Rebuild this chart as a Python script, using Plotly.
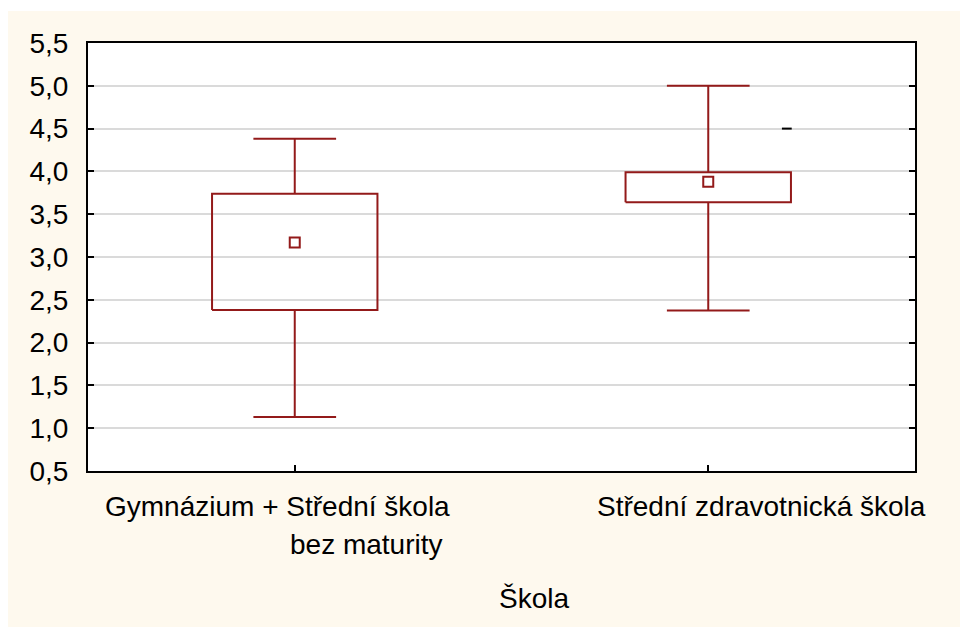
import plotly.graph_objects as go

# ---- data ----
categories = ["Gymnázium + Střední škola bez maturity", "Střední zdravotnická škola"]
whisker_low = [1.13, 2.375]
box_q1 = [2.38, 3.64]
box_center = [3.17, 3.88]
box_q3 = [3.74, 3.99]
whisker_high = [4.38, 5.0]
outlier_group = [1]
outlier_value = [4.5]

y_ticks = [0.5, 1.0, 1.5, 2.0, 2.5, 3.0, 3.5, 4.0, 4.5, 5.0, 5.5]

# ---- style ----
RED = "#931A1A"
CREAM = "#FEF9EE"
FONT = "Liberation Sans"
FS = 28
BOX_HALF = 0.2
CAP_HALF = 0.1
OUTLIER_OFFSET = 0.19

W, H = 952, 619
ML, MR, MT, MB = 80, 45, 35, 156

fig = go.Figure()

bx, by = [], []
wx, wy = [], []
for i in range(len(categories)):
    bx += [i - BOX_HALF, i + BOX_HALF, i + BOX_HALF, i - BOX_HALF, i - BOX_HALF, None]
    by += [box_q1[i], box_q1[i], box_q3[i], box_q3[i], box_q1[i], None]
    wx += [i, i, None, i - CAP_HALF, i + CAP_HALF, None,
           i, i, None, i - CAP_HALF, i + CAP_HALF, None]
    wy += [box_q3[i], whisker_high[i], None, whisker_high[i], whisker_high[i], None,
           box_q1[i], whisker_low[i], None, whisker_low[i], whisker_low[i], None]

fig.add_trace(go.Scatter(x=wx, y=wy, mode="lines", line=dict(color=RED, width=2),
                         hoverinfo="skip", showlegend=False))
fig.add_trace(go.Scatter(x=bx, y=by, mode="lines", line=dict(color=RED, width=2),
                         hoverinfo="skip", showlegend=False))
fig.add_trace(go.Scatter(x=list(range(len(categories))), y=box_center, mode="markers",
                         marker=dict(symbol="square", size=10, color="white",
                                     line=dict(color=RED, width=2)),
                         showlegend=False))
fig.add_trace(go.Scatter(x=[g + OUTLIER_OFFSET for g in outlier_group], y=outlier_value,
                         mode="markers",
                         marker=dict(symbol="line-ew", size=7,
                                     line=dict(color="black", width=2)),
                         showlegend=False))

lab_font = dict(family=FONT, size=FS, color="black")
fig.add_annotation(x=0, y=0, xref="x", yref="paper", text="Gymnázium + Střední škola",
                   showarrow=False, xanchor="center", yanchor="middle",
                   xshift=-17, yshift=-35, font=lab_font)
fig.add_annotation(x=0, y=0, xref="x", yref="paper", text="bez maturity",
                   showarrow=False, xanchor="center", yanchor="middle",
                   xshift=72, yshift=-73, font=lab_font)
fig.add_annotation(x=1, y=0, xref="x", yref="paper", text=categories[1],
                   showarrow=False, xanchor="center", yanchor="middle",
                   xshift=53, yshift=-35, font=lab_font)
fig.add_annotation(x=0.5, y=0, xref="paper", yref="paper", text="Škola",
                   showarrow=False, xanchor="center", yanchor="middle",
                   xshift=32, yshift=-127, font=lab_font)

pw, ph = W - ML - MR, H - MT - MB
fig.add_shape(type="rect", xref="paper", yref="paper",
              x0=(0 - ML) / pw, x1=(W - ML) / pw,
              y0=(H - MB - 3) / ph, y1=(H - MB) / ph,
              line=dict(width=0), fillcolor="white", layer="above")

fig.update_layout(
    width=W, height=H,
    margin=dict(l=ML, r=MR, t=MT, b=MB),
    paper_bgcolor=CREAM,
    plot_bgcolor="white",
    separators=",.",
    font=dict(family=FONT, size=FS, color="black"),
    showlegend=False,
    xaxis=dict(range=[-0.5, 1.5], tickvals=[0, 1], ticktext=["", ""],
               showgrid=False, zeroline=False,
               showline=True, linecolor="black", linewidth=2, mirror=True,
               ticks="inside", ticklen=6, tickwidth=2, tickcolor="black"),
    yaxis=dict(range=[0.5, 5.5], tickvals=y_ticks, tickformat=".1f",
               showgrid=True, gridcolor="#DADADA", gridwidth=2, zeroline=False,
               showline=True, linecolor="black", linewidth=2, mirror="ticks",
               ticks="inside", ticklen=6, tickwidth=2, tickcolor="black",
               ticklabelstandoff=12),
)

fig.write_html("out.html")
